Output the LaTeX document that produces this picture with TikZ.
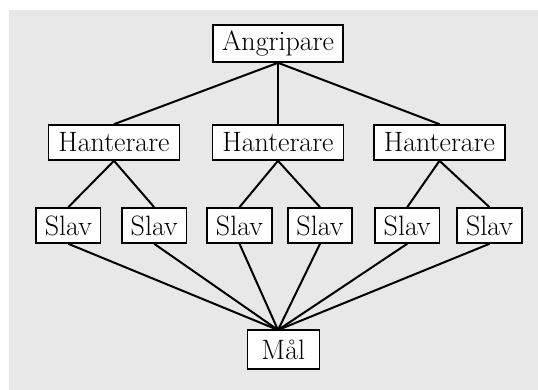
\documentclass[tikz,border=0pt]{standalone}
\begin{document}
\begin{tikzpicture}[x=1pt,y=-1pt,
  box/.style={draw=black, fill=white, line width=1.6pt, inner sep=0pt,
    font=\fontsize{28}{32}\selectfont},
  link/.style={draw=black, line width=2pt}]
  % canvas and grey panel
  \useasboundingbox (0,0) rectangle (538,390);
  \fill[white] (0,0) rectangle (538,390);
  \fill[black!9] (9,10) rectangle (538,390);

  % top
  \node[box, minimum width=130pt, minimum height=37pt] (att) at (278,43.5) {Angripare};

  % handlers
  \node[box, minimum width=131pt, minimum height=35pt] (h1) at (114,142.5) {Hanterare};
  \node[box, minimum width=131pt, minimum height=35pt] (h2) at (278,142.5) {Hanterare};
  \node[box, minimum width=131pt, minimum height=35pt] (h3) at (439.5,142.5) {Hanterare};

  % slaves
  \foreach \n/\x in {s1/68.3, s2/154.2, s3/239.5, s4/320, s5/407.2, s6/489.5}
    \node[box, minimum width=64.5pt, minimum height=35pt] (\n) at (\x,225.5) {Slav};

  % target
  \node[box, minimum width=72pt, minimum height=39pt] (goal) at (283.3,349.5) {Mål};
  \coordinate (hub) at (278,330);

  % connectors
  \foreach \h in {h1,h2,h3}
    \draw[link] (att.south) -- (\h.north);
  \draw[link] (h1.south) -- (s1.north);
  \draw[link] (h1.south) -- (s2.north);
  \draw[link] (h2.south) -- (s3.north);
  \draw[link] (h2.south) -- (s4.north);
  \draw[link] (h3.south) -- (s5.north);
  \draw[link] (h3.south) -- (s6.north);
  \foreach \s in {s1,s2,s3,s4,s5,s6}
    \draw[link] (\s.south) -- (hub);
\end{tikzpicture}
\end{document}
